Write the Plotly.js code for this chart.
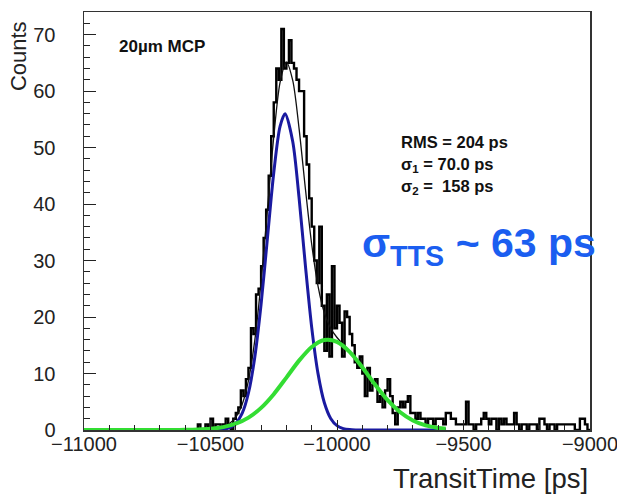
<!DOCTYPE html>
<html>
<head>
<meta charset="utf-8">
<script src="https://cdn.plot.ly/plotly-3.0.1.min.js"></script>
<style>html,body{margin:0;padding:0;background:#fff;}#chart{width:617px;height:498px;}</style>
</head>
<body>
<div id="chart"></div>
<script>
// Histogram: 10 ps bins from -11000 ps to -9000 ps
const binStart = -11000;
const binWidth = 10;
const counts = [
  0,0,0,0,0,0,0,0,0,0,
  0,0,0,0,0,0,0,0,0,0,
  0,0,0,0,0,0,0,0,0,0,
  0,0,0,0,0,0,0,0,0,0,
  0,0,0,0,0,1,0,0,1,0,
  2,0,1,1,0,1,2,1,0,2,
  3,4,7,6,9,11,18,17,24,25,
  29,34,39,45,52,58,64,62,71,64,
  65,69,65,64,62,60,60,52,47,41,
  36,30,26,36,22,14,24,13,29,18,
  22,19,13,21,20,17,15,12,11,13,
  10,6,11,7,8,9,5,6,4,7,
  9,6,3,1,4,5,4,5,6,3,
  3,2,3,2,2,1,2,2,1,2,
  2,2,1,3,3,2,2,1,1,1,
  1,5,1,1,0,1,1,2,3,2,
  1,2,2,0,2,1,2,1,1,1,
  3,1,0,1,1,0,1,1,1,0,
  2,2,1,0,1,1,0,1,1,1,
  1,1,1,1,0,0,2,2,1,0
];

// Fit curves
const blueX = [-10525,-10500,-10475,-10450,-10425,-10400,-10375,-10350,-10325,-10300,-10275,-10250,-10225,-10205,-10175,-10150,-10125,-10100,-10075,-10050,-10025,-10000,-9975,-9950,-9925,-9900,-9570];
const blueY = [0.002,0.008,0.033,0.12,0.40,1.16,2.93,6.55,12.89,22.30,33.97,45.54,53.76,56.00,51.09,41.13,29.15,18.18,9.98,4.82,2.05,0.77,0.25,0.073,0.019,0.004,0];

const greenX = [-11000,-10700,-10650,-10600,-10550,-10500,-10450,-10400,-10350,-10300,-10250,-10200,-10150,-10100,-10050,-10000,-9950,-9900,-9850,-9800,-9750,-9700,-9650,-9600,-9570];
const greenY = [0,0.002,0.008,0.027,0.079,0.21,0.51,1.11,2.19,3.92,6.34,9.28,12.28,14.70,15.93,15.61,13.84,11.11,8.06,5.29,3.15,1.69,0.82,0.36,0.22];

const sumX = [-10525,-10500,-10475,-10450,-10425,-10400,-10375,-10350,-10325,-10300,-10275,-10250,-10225,-10200,-10175,-10150,-10125,-10100,-10075,-10050,-10025,-10000,-9975,-9950,-9925,-9900,-9850,-9800,-9750,-9700,-9650,-9600,-9570];
const sumY = [0.1,0.22,0.36,0.63,1.16,2.27,4.51,8.74,15.86,26.22,39.02,51.88,61.53,65.14,61.89,53.41,42.75,32.88,25.48,20.75,18.02,16.38,15.14,13.91,12.58,11.11,8.06,5.29,3.15,1.69,0.82,0.36,0.22];

const xTickVals = [-11000,-10500,-10000,-9500,-9000];
const yTickVals = [0,10,20,30,40,50,60,70];

const edges = counts.map((_, i) => binStart + i * binWidth);
edges.push(binStart + counts.length * binWidth);
const stepY = counts.concat([counts[counts.length - 1]]);

const FONT = '"Liberation Sans", Arial, Helvetica, sans-serif';

const traces = [
  {x: edges, y: stepY, type: 'scatter', mode: 'lines', line: {shape: 'hv', color: '#000', width: 2.4}, hoverinfo: 'skip'},
  {x: sumX, y: sumY, type: 'scatter', mode: 'lines', line: {shape: 'spline', smoothing: 0.8, color: '#111', width: 1.3}, hoverinfo: 'skip'},
  {x: blueX, y: blueY, type: 'scatter', mode: 'lines', line: {shape: 'spline', smoothing: 0.8, color: '#1a1aa0', width: 3}, hoverinfo: 'skip'},
  {x: greenX, y: greenY, type: 'scatter', mode: 'lines', line: {shape: 'spline', smoothing: 0.8, color: '#33dd33', width: 4}, hoverinfo: 'skip'}
];

const layout = {
  width: 617, height: 498,
  margin: {l: 84, r: 27, t: 12, b: 68},
  paper_bgcolor: '#fff', plot_bgcolor: '#fff',
  showlegend: false,
  font: {family: FONT, color: '#222', size: 20},
  xaxis: {
    range: [-11000, -9000], tickmode: 'array', tickvals: xTickVals, tickformat: 'd',
    ticks: 'inside', ticklen: 10, tickwidth: 1, tickcolor: '#222',
    minor: {dtick: 100, tick0: -11000, ticks: 'inside', ticklen: 5, tickcolor: '#222'},
    showline: true, linecolor: '#333', linewidth: 1.5, mirror: true,
    showgrid: false, zeroline: false, ticklabelstandoff: -5, ticklabeloverflow: 'allow',
    tickfont: {size: 20, family: FONT, color: '#222'}
  },
  yaxis: {
    range: [0, 74], tickmode: 'array', tickvals: yTickVals,
    ticks: 'inside', ticklen: 12, tickwidth: 1, tickcolor: '#222',
    minor: {dtick: 2, tick0: 0, ticks: 'inside', ticklen: 6, tickcolor: '#222'},
    showline: true, linecolor: '#333', linewidth: 1.5, mirror: true,
    showgrid: false, zeroline: false, ticklabelstandoff: 23,
    tickfont: {size: 20, family: FONT, color: '#222'}
  },
  annotations: [
    {xref: 'paper', yref: 'paper', x: 1, y: -0.115, xanchor: 'right', yanchor: 'middle', showarrow: false,
     text: 'TransitTime [ps]', font: {size: 27.5, family: FONT, color: '#222'}},
    {xref: 'paper', yref: 'paper', x: -0.128, y: 0.895, xanchor: 'center', yanchor: 'middle', textangle: -90, showarrow: false,
     text: 'Counts', font: {size: 22, family: FONT, color: '#222'}},
    {xref: 'x', yref: 'y', x: -10870, y: 67.9, xanchor: 'left', yanchor: 'middle', showarrow: false,
     text: '<b>20µm MCP</b>', font: {size: 17, family: FONT, color: '#111'}},
    {xref: 'x', yref: 'y', x: -9755, y: 50.9, xanchor: 'left', yanchor: 'middle', showarrow: false,
     text: '<b>RMS = 204 ps</b>', font: {size: 16.5, family: FONT, color: '#111'}},
    {xref: 'x', yref: 'y', x: -9755, y: 47.0, xanchor: 'left', yanchor: 'middle', showarrow: false,
     text: '<b>σ<sub>1</sub> = 70.0 ps</b>', font: {size: 16.5, family: FONT, color: '#111'}},
    {xref: 'x', yref: 'y', x: -9755, y: 43.0, xanchor: 'left', yanchor: 'middle', showarrow: false,
     text: '<b>σ<sub>2</sub> =  158 ps</b>', font: {size: 16.5, family: FONT, color: '#111'}},
    {xref: 'x', yref: 'y', x: -9909, y: 32.6, xanchor: 'left', yanchor: 'middle', showarrow: false,
     text: '<b>σ<sub>TTS</sub> ~ 63 ps</b>', font: {size: 41, family: FONT, color: '#1b5ef0'}}
  ]
};

Plotly.newPlot('chart', traces, layout, {displayModeBar: false, staticPlot: true});
</script>
</body>
</html>
